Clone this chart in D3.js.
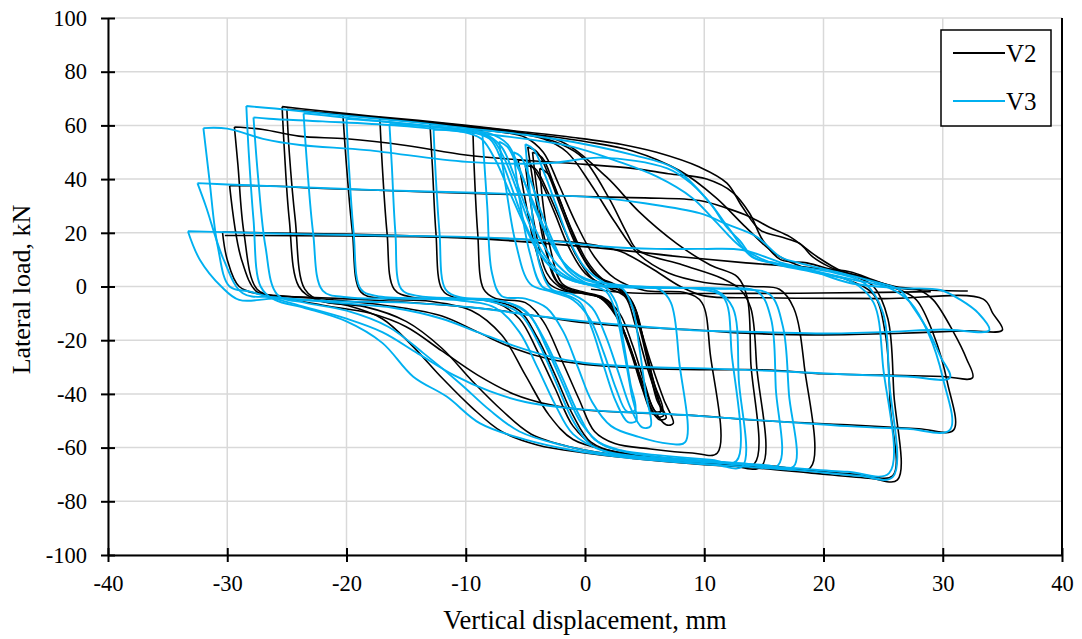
<!DOCTYPE html>
<html>
<head>
<meta charset="utf-8">
<script src="https://cdn.jsdelivr.net/npm/d3@7"></script>
<style>
  html, body { margin: 0; padding: 0; background: #fff; }
  svg { display: block; }
  text { font-family: "Liberation Serif", "Times New Roman", serif; fill: #000; }
</style>
</head>
<body>
<svg id="chart" width="1082" height="639"></svg>
<script>
// Axis ticks
const xTicks = [-40, -30, -20, -10, 0, 10, 20, 30, 40];
const yTicks = [-100, -80, -60, -40, -20, 0, 20, 40, 60, 80, 100];

// Series names
const seriesNames = ["V2", "V3"];

// V2: cyclic loops, each listed as [displacement mm, lateral load kN]
const v2Loops = [
  [[-25.4,67],[-23,65.8],[-18,63.5],[-12,61],[-6,58],[-1,55.5],[3,53],[6,50],[9.6,44.5],[11.9,38.5],[13.2,29.6],[14.7,21],[16.4,18.5],[18,16],[19.1,11],[20.5,7.3],[22.5,4],[24.2,0],[25.4,-12],[25.9,-40],[26.2,-72],
   [24,-71.5],[19,-69.5],[14,-67.5],[9,-66],[4,-64],[0,-62],[-4,-59],[-7,-54],[-9.5,-45],[-12,-34],[-14.5,-22],[-17,-12],[-20,-7],[-22.5,-5],[-24,0],[-24.8,25],[-25.2,50],[-25.4,67]],
  [[-25.0,66],[-22,64.8],[-17,62.8],[-11,60],[-5,57],[0,54],[4,50.5],[8,43],[11,33],[13.5,22],[16,12],[19,6],[22,2.5],[24.2,-3],[25.2,-18],[25.6,-45],[25.8,-70.5],
   [23,-70],[18,-68.3],[13,-66.8],[8,-65],[3,-63],[-1,-60],[-4.5,-55],[-7,-46],[-9.5,-35],[-12,-23],[-15,-13],[-18.5,-7.5],[-22,-5.5],[-23.5,-1],[-24.3,25],[-24.8,50],[-25.0,66]],
  [[-20.3,64],[-17,62.5],[-12,60.3],[-7,57.8],[-3.5,55],[-1.5,50],[0.5,38],[2.5,24],[4.5,12],[7,5],[10,1.5],[14,0],[16.3,-1],[17.5,-8],[18.4,-30],[18.9,-67.5],
   [16,-67],[11,-65.5],[6,-63.5],[2,-61],[-1,-57],[-3,-48],[-5,-33],[-7,-18],[-9.5,-9],[-13,-5.5],[-17,-4.5],[-18.8,-2],[-19.5,20],[-20,45],[-20.3,64]],
  [[-17.2,62.5],[-14,61.5],[-9,59.3],[-5,57],[-2,53],[-0.2,48],[2,33],[3.5,20],[4.4,13.6],[8.2,8],[11.5,3],[13,-1],[13.9,-8],[14.4,-30],[14.8,-67],
   [12,-66.5],[8,-65],[4,-63],[1,-60],[-1,-52],[-2.5,-38],[-4,-24],[-5.5,-12],[-7.5,-6],[-11,-4.5],[-14.5,-4],[-16,-1],[-16.6,20],[-17,45],[-17.2,62.5]],
  [[-13,60.5],[-10,59.5],[-6,57.5],[-2,54],[1.8,40.8],[4.5,28],[7.7,16],[10.5,8],[12.8,3.5],[13.6,-4],[13.9,-28],[14.2,-66],
   [11.5,-65.5],[7,-64],[3,-62],[0.5,-58],[-1,-48],[-2.5,-33],[-4,-19],[-5.5,-9],[-8,-5],[-11,-4],[-12,-1],[-12.5,20],[-12.8,45],[-13,60.5]],
  [[-9.4,58.5],[-7,57.5],[-5,55.5],[-3.5,50],[-2.2,38],[-0.8,24],[0.8,11],[2.5,3],[5,-1.5],[8.5,-2.4],[9.8,-6],[10.5,-25],[11.1,-62],
   [9,-62],[5.5,-60.5],[2.5,-58.5],[0.8,-54],[-0.5,-42],[-2,-27],[-3.5,-13],[-5,-6],[-7.5,-4.5],[-8.5,-1],[-9,20],[-9.3,45],[-9.4,58.5]],
  [[-5.6,47],[-4.8,46.5],[-3.8,40],[-2.6,28],[-1.4,15],[0,5],[1.8,0],[3.2,-2],[4.2,-10],[5.5,-28],[6.6,-42],[7.4,-51],
   [6.8,-51.5],[5.8,-46],[4.6,-33],[3.4,-18],[2.2,-7],[0.6,-3],[-1.5,-2],[-3,1],[-4.2,15],[-5,32],[-5.6,47]],
  [[-5.0,45],[-4.2,44],[-3.2,36],[-2,24],[-0.8,12],[0.6,3],[2.2,-1],[3.4,-4],[4.2,-14],[5.2,-30],[6.2,-43],[6.8,-49],
   [6.2,-49.5],[5.2,-42],[4.2,-28],[3.0,-14],[1.8,-5],[0,-2.5],[-1.8,-1],[-3.2,5],[-4.2,22],[-5.0,45]],
  [[-4.4,50],[-3.6,48],[-2.6,38],[-1.5,25],[-0.3,12],[1,4],[2.8,0],[4,-6],[4.8,-18],[5.6,-33],[6.3,-47],
   [5.7,-47.5],[4.8,-38],[3.8,-24],[2.6,-11],[1.2,-4],[-0.6,-2],[-2.4,2],[-3.4,18],[-4.0,35],[-4.4,50]],
  [[-4.8,52],[-4.0,50],[-3.0,41],[-1.9,28],[-0.7,15],[0.7,5],[2.4,0],[3.7,-5],[4.6,-16],[5.4,-31],[6.0,-42],[6.6,-48],
   [6.0,-48.5],[5.0,-40],[4.0,-26],[2.8,-12],[1.4,-4.5],[-0.3,-2.5],[-2.0,0],[-3.2,12],[-4.1,32],[-4.8,52]],
  [[-3.8,44],[-3.1,42],[-2.2,33],[-1.1,21],[0.1,10],[1.4,3],[3,-1],[4.2,-8],[5,-22],[5.8,-36],[6.5,-46],
   [5.9,-46.5],[5,-36],[4,-22],[2.9,-10],[1.5,-4],[-0.2,-2],[-1.9,1],[-2.9,14],[-3.5,30],[-3.8,44]],
  [[-29.4,59.4],[-27,58.5],[-24,56],[-20,55],[-15,52.5],[-10,49],[-5,47],[0,45.5],[4,44],[7,42],[10.2,40],[12.4,35],[13.8,27.3],[14.9,17.3],[16.4,10],[18.6,8.8],[20.8,6.2],[23,4],[24.5,1.5],[26.4,-1.3],[27.8,-5],[29.2,-17.5],[30.4,-36],[30.9,-53.5],
   [28,-53],[22,-51.5],[15,-50],[9,-48],[4,-47],[0,-46],[-3,-44],[-6,-40],[-9,-33],[-12,-24],[-15,-15],[-18,-10],[-22,-7],[-25.5,-4],[-27.5,-1],[-28.6,20],[-29.1,45],[-29.4,59.4]],
  [[-29.8,37.5],[-27,37.5],[-22,36.5],[-15,35.5],[-8,34.5],[0,33.5],[5,33],[9.6,32],[12,29],[13.8,26],[15.5,22],[17.2,18.5],[19.5,11],[21.4,6],[23.5,3],[26,0],[28,-1.3],[29.2,-5],[30.9,-17],[32,-27],[32.5,-34],
   [30,-33.5],[25,-33],[20,-32.5],[15,-31],[9.6,-31],[5,-30.5],[0,-29],[-3,-27],[-6,-23],[-9,-17],[-12,-11],[-16,-7.5],[-21,-5],[-25.5,-3.5],[-27.5,-2],[-28.8,10],[-29.8,37.5]],
  [[-30.4,20.3],[-27,20],[-20,19.5],[-12,18.5],[-5,17.5],[0,16],[3,13],[5.5,7],[8,0],[10,-3.5],[15,-4.2],[25,-4.5],[33.4,-4.7],[34.2,-10],[35,-16.2],
   [32,-16.5],[26,-17.5],[20,-18],[14,-17.5],[9.6,-16.3],[4,-15],[0,-13.5],[-4,-11],[-8,-8.5],[-13,-6.5],[-18,-5],[-23,-4],[-27,-3],[-29,0],[-30,10],[-30.4,20.3]],
  [[-30.2,19],[-20,18.8],[-10,18],[1.3,14.3],[8.2,11],[13.8,8.7],[18.9,7],[22.2,5.5],[24.2,2.4],[26.4,-0.6],[28.7,-1.3],[32.1,-1.7]],
  [[0.5,-1],[4,-2.4],[10,-2.6],[18,-2.5],[25,-2.2],[29,-1.9]]
];

// V3: cyclic loops, each listed as [displacement mm, lateral load kN]
const v3Loops = [
  [[-28.4,67.2],[-26,66.3],[-21,64],[-15,61.5],[-10,59],[-5,56.5],[0,53],[4,49],[7.5,44],[10.5,31],[12,22],[14,11],[16,8.7],[18,7.3],[21,5],[23.5,1],[25,-10],[25.5,-35],[25.8,-71],
   [23,-70.5],[18,-68.5],[13,-67],[8,-65.5],[3,-63.5],[-1,-61],[-5,-57],[-8.8,-51],[-11.6,-41],[-14.4,-33.6],[-17,-21],[-20,-13],[-23.5,-8],[-26,-5],[-27.2,0],[-27.8,25],[-28.2,50],[-28.4,67.2]],
  [[-27.8,63],[-26.5,62.5],[-22,61.5],[-16,60],[-10,57.5],[-5,55],[-1,52],[2.5,47],[6,41],[9,33],[11,24],[13,15],[15.5,9],[19,5.5],[22.5,1.5],[24.2,-6],[25,-30],[25.5,-69.5],
   [22,-69],[17,-67.5],[12,-66],[7,-64.5],[2,-62.5],[-2,-59],[-5.5,-54],[-8,-46],[-10.5,-36],[-13.5,-25],[-16.5,-15],[-20,-9],[-23.5,-6],[-25.8,-3],[-26.8,15],[-27.4,40],[-27.8,63]],
  [[-23.6,64.5],[-21,63.3],[-16,61],[-11,58.8],[-8,57],[-6.5,53],[-5.5,44],[-4.5,32],[-3.3,20],[-1.8,9],[0,3],[3,0.5],[8,-0.5],[13,-1],[15.5,-3],[16.6,-15],[17.1,-40],[17.5,-67],
   [15,-66.5],[10,-65],[5,-63.5],[1.5,-61],[-1,-55],[-2.5,-44],[-4,-30],[-5.5,-17],[-7.5,-8],[-11,-5],[-16,-4.5],[-20,-4],[-22,-1.5],[-22.8,20],[-23.3,45],[-23.6,64.5]],
  [[-20,62.5],[-17,61.5],[-12,59.3],[-8.5,57],[-7,52],[-6,42],[-5,30],[-3.8,18],[-2.3,8],[-0.5,2],[3,0],[8,-0.5],[11,-1.5],[12.4,-8],[12.9,-35],[13.2,-67],
   [11,-66.5],[7,-65],[3,-63],[0.5,-59],[-1,-50],[-2.4,-36],[-3.8,-22],[-5.5,-10],[-8,-5.5],[-13,-4.5],[-17.5,-3.5],[-18.8,-1],[-19.4,20],[-19.8,45],[-20,62.5]],
  [[-16.4,60.5],[-13,59.5],[-10,58],[-8,55],[-7,47],[-6,35],[-5,23],[-3.7,12],[-2,4],[0.5,0.5],[5,-0.3],[11,-0.8],[14.5,-2],[15.6,-12],[16,-38],[16.2,-66.5],
   [13.5,-66],[9,-64.5],[4.5,-62.5],[1.5,-59],[-0.3,-51],[-1.8,-37],[-3.2,-23],[-4.6,-11],[-6.5,-6],[-10,-4.5],[-14,-3.5],[-15.4,-1],[-15.9,20],[-16.2,45],[-16.4,60.5]],
  [[-12.7,58.5],[-10.5,57.8],[-8.7,55],[-7.5,47],[-6.4,36],[-5.2,24],[-3.8,12],[-2,4],[0.5,0.5],[5,-0.5],[9.5,-1],[11.6,-4],[12.3,-25],[12.7,-65],
   [10.5,-64.5],[6.5,-63],[3,-61],[0.8,-57],[-0.6,-47],[-2,-33],[-3.5,-19],[-5,-9],[-7.5,-5],[-10.5,-4],[-11.7,-1],[-12.2,20],[-12.5,40],[-12.7,58.5]],
  [[-8.6,56.5],[-7.8,55],[-6.8,48],[-5.8,37],[-4.8,25],[-3.6,13],[-2,5],[0,1],[3.5,0],[6.2,-1],[7.2,-6],[7.9,-28],[8.4,-58],
   [7,-58.5],[4.5,-56],[2.2,-52],[0.6,-43],[-0.6,-30],[-1.8,-17],[-3.2,-8],[-5,-4.5],[-7,-3.5],[-7.8,5],[-8.2,30],[-8.6,56.5]],
  [[-6,50],[-5.4,48.5],[-4.6,40],[-3.7,28],[-2.6,16],[-1.4,6],[0.2,1],[1.8,-2],[2.6,-10],[3.3,-25],[3.9,-40],[4.3,-50],
   [3.6,-50.5],[2.6,-43],[1.6,-30],[0.6,-16],[-0.4,-6],[-2,-2.5],[-3.6,0],[-4.6,12],[-5.4,30],[-6,50]],
  [[-5,53],[-4.3,51],[-3.4,42],[-2.4,30],[-1.3,17],[0,7],[1.6,1.5],[3.2,-1],[4,-8],[4.6,-24],[5.1,-40],[5.5,-52],
   [4.8,-52.5],[3.8,-45],[2.8,-32],[1.7,-18],[0.6,-8],[-1,-3],[-2.8,-1],[-3.8,8],[-4.5,30],[-5,53]],
  [[-7.2,54],[-6.5,52],[-5.6,44],[-4.5,33],[-3.2,20],[-1.8,9],[-0.2,3],[1.6,0],[2.6,-6],[3.2,-20],[3.8,-36],[4.2,-46],
   [3.5,-46.5],[2.6,-38],[1.6,-25],[0.4,-12],[-1,-5],[-2.8,-2],[-4.6,1],[-5.8,16],[-6.6,36],[-7.2,54]],
  [[-32,59],[-30,58.8],[-27,55],[-23.9,52.7],[-18.3,50.8],[-9.9,46.4],[-2.9,46],[1.3,48],[6.9,44],[9,38],[10.5,31],[11.9,22],[13,17],[14.1,11],[16,8.5],[19,6],[22.5,2.5],[25.5,-0.5],[27.3,-6],[28.8,-17.5],[30,-34],[30.6,-53.4],
   [27,-53],[22,-52],[17,-50.5],[12,-49],[7,-47.5],[2,-46.5],[-2,-45],[-5,-43],[-8,-39],[-11,-33],[-14,-25],[-17,-17],[-20,-12],[-24,-7],[-28,-2],[-29.8,0],[-30.8,15],[-31.5,40],[-32,59]],
  [[-32.5,38.5],[-30,38],[-25,37.2],[-18,36],[-10,35],[-3,34],[1.3,33],[5,31],[9.6,27.3],[12,23],[14.4,18.5],[16.4,11],[18,8.7],[21,5.5],[24.5,1.5],[26.4,-1.3],[27.5,-7.6],[28.9,-17.5],[29.8,-26],[30.6,-34],
   [27,-33.5],[22,-32.8],[16,-31.5],[10,-30.5],[5,-30],[0,-28.5],[-3,-26],[-6,-22],[-9,-17],[-12,-12],[-16,-8],[-21,-6],[-26,-4],[-28.7,-2.5],[-30.3,10],[-31.8,30],[-32.5,38.5]],
  [[-33.3,20.6],[-30,20.2],[-24,19.5],[-17,19],[-10,18.5],[-3,17],[1.3,15],[6,14],[10,14],[13.2,13.6],[16.6,8.7],[18.9,6.1],[22.2,1.3],[26.4,-0.6],[29.8,-1.3],[31.5,-5],[33,-10],[33.9,-16.3],
   [30,-16],[25,-17],[20,-17.5],[15,-17],[10,-16.5],[5,-15],[0,-13],[-4,-11],[-9,-8],[-15,-6],[-21,-5.5],[-26,-4.5],[-29,-5],[-30.5,0],[-32.3,10],[-33.3,20.6]]
];

const seriesData = [
  { name: seriesNames[0], loops: v2Loops, color: "#000000", width: 1.6 },
  { name: seriesNames[1], loops: v3Loops, color: "#00B0F0", width: 1.9 }
];

const svg = d3.select("#chart");

const x = d3.scaleLinear().domain([-40, 40]).range([108, 1062]);
const y = d3.scaleLinear().domain([-100, 100]).range([555, 18]);

// Gridlines
const grid = svg.append("g");
grid.selectAll("line.gx").data(xTicks).join("line")
  .attr("x1", d => x(d)).attr("x2", d => x(d))
  .attr("y1", y(100)).attr("y2", y(-100))
  .attr("stroke", "#d9d9d9").attr("stroke-width", 1.5);
grid.selectAll("line.gy").data(yTicks).join("line")
  .attr("x1", x(-40)).attr("x2", x(40))
  .attr("y1", d => y(d)).attr("y2", d => y(d))
  .attr("stroke", "#d9d9d9").attr("stroke-width", 1.5);

// Hysteresis curves
const line = d3.line()
  .x(d => x(d[0]))
  .y(d => y(d[1]))
  .curve(d3.curveCatmullRom.alpha(0.5));

const plot = svg.append("g");
seriesData.forEach(s => {
  plot.append("g").selectAll("path").data(s.loops).join("path")
    .attr("d", line)
    .attr("fill", "none")
    .attr("stroke", s.color)
    .attr("stroke-width", s.width)
    .attr("stroke-linejoin", "round");
});

// Axes (labels use a plain hyphen for negatives)
const fmt = d => String(d);
const xAxis = d3.axisBottom(x).tickValues(xTicks).tickFormat(fmt).tickSizeInner(7).tickSizeOuter(0).tickPadding(13);
const yAxis = d3.axisLeft(y).tickValues(yTicks).tickFormat(fmt).tickSizeInner(7).tickSizeOuter(0).tickPadding(14);

const gx = svg.append("g").attr("transform", `translate(0,${y(-100)})`).call(xAxis);
const gy = svg.append("g").attr("transform", `translate(${x(-40)},0)`).call(yAxis);

[gx, gy].forEach(g => {
  g.select(".domain").attr("stroke", "#000").attr("stroke-width", 2);
  g.selectAll(".tick line").attr("stroke", "#000").attr("stroke-width", 2);
  g.selectAll(".tick text")
    .attr("font-family", "'Liberation Serif', serif")
    .attr("font-size", 22.5)
    .attr("fill", "#000");
});
// Ticks cross the axis line
gx.selectAll(".tick line").attr("y1", -7).attr("y2", 7);
gy.selectAll(".tick line").attr("x1", -7).attr("x2", 7);

// Right-hand frame line of the plot area
svg.append("line")
  .attr("x1", x(40)).attr("x2", x(40))
  .attr("y1", y(100)).attr("y2", y(-100))
  .attr("stroke", "#000").attr("stroke-width", 2);

// Axis titles
svg.append("text")
  .attr("x", x(0)).attr("y", 629)
  .attr("text-anchor", "middle")
  .attr("font-size", 26.5)
  .text("Vertical displacement, mm");
svg.append("text")
  .attr("transform", `translate(30,${y(0) + 3}) rotate(-90)`)
  .attr("text-anchor", "middle")
  .attr("font-size", 26)
  .text("Lateral load, kN");

// Legend
const legend = svg.append("g");
legend.append("rect")
  .attr("x", 941).attr("y", 30).attr("width", 110).attr("height", 96)
  .attr("fill", "#fff").attr("stroke", "#000").attr("stroke-width", 1.5);
seriesData.forEach((s, i) => {
  const ly = 53 + i * 48;
  legend.append("line")
    .attr("x1", 953).attr("x2", 1005).attr("y1", ly).attr("y2", ly)
    .attr("stroke", s.color).attr("stroke-width", 2);
  legend.append("text")
    .attr("x", 1006).attr("y", ly + 9)
    .attr("font-size", 25)
    .text(s.name);
});
</script>
</body>
</html>
